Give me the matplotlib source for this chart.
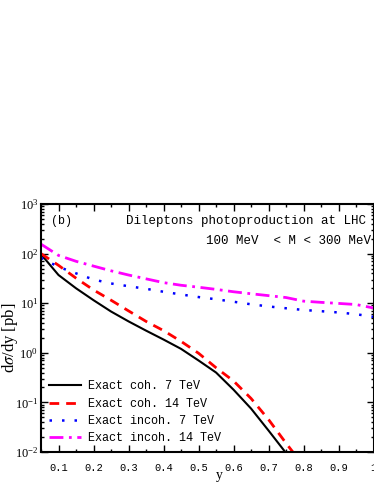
import matplotlib
matplotlib.use("Agg")
import matplotlib.pyplot as plt
from matplotlib.ticker import LogLocator, MultipleLocator, NullFormatter, FixedLocator

# data
y_coh7 = [0.05, 0.1, 0.15, 0.2, 0.25, 0.3, 0.35, 0.4, 0.45, 0.5, 0.55, 0.6, 0.65, 0.7, 0.75]
v_coh7 = [97, 37, 20, 11.5, 6.8, 4.3, 2.8, 1.85, 1.2, 0.7, 0.4, 0.18, 0.075, 0.027, 0.0095]

y_coh14 = [0.05, 0.1, 0.15, 0.2, 0.25, 0.3, 0.35, 0.4, 0.45, 0.5, 0.55, 0.6, 0.65, 0.7, 0.75, 0.78]
v_coh14 = [100, 58, 32, 18.5, 11.5, 7.0, 4.3, 2.8, 1.7, 0.98, 0.5, 0.27, 0.12, 0.045, 0.015, 0.008]

y_inc = [0.05, 0.1, 0.15, 0.2, 0.25, 0.3, 0.35, 0.4, 0.45, 0.5, 0.55, 0.6, 0.65, 0.7,
         0.75, 0.8, 0.85, 0.9, 0.95, 1.0]
v_inc7 = [82, 54, 40, 30, 25, 22, 19.5, 17, 15, 13.3, 12, 10.7, 9.5, 8.6,
          7.9, 7.3, 6.9, 6.5, 6.0, 5.3]
v_inc14 = [155, 92, 70, 56, 45, 37, 31, 26, 23, 21, 19, 17, 15.5, 14.2,
           13, 11, 10.4, 9.9, 9.4, 8.0]

labels = ["Exact coh. 7 TeV", "Exact coh. 14 TeV", "Exact incoh. 7 TeV", "Exact incoh. 14 TeV"]
xticks = [0.1, 0.2, 0.3, 0.4, 0.5, 0.6, 0.7, 0.8, 0.9, 1.0]
xticklabels = ["0.1", "0.2", "0.3", "0.4", "0.5", "0.6", "0.7", "0.8", "0.9", "1"]

plt.rcParams['mathtext.fontset'] = 'stix'
plt.rcParams['font.family'] = ['Liberation Serif', 'DejaVu Serif']

fig = plt.figure(figsize=(3.74, 4.84), dpi=100)
ax = fig.add_axes([41/374, 32/484, 1 - 41/374 - 0.001, (452-204)/484])

ax.plot(y_coh7, v_coh7, color='black', lw=1.5, label=labels[0])
ax.plot(y_coh14, v_coh14, color='red', lw=2.0, linestyle=(0, (3.5, 2.5)), label=labels[1])
ax.plot(y_inc, v_inc7, color='blue', lw=1.8, linestyle=(0, (1, 4)), label=labels[2])
ax.plot(y_inc, v_inc14, color='magenta', lw=2.0, linestyle=(0, (5, 2, 1, 2)), label=labels[3])

ax.set_yscale('log')
ax.set_xlim(0.05, 1.0)
ax.set_ylim(1e-2, 1e3)

ax.xaxis.set_major_locator(FixedLocator(xticks))
ax.set_xticklabels(xticklabels, family='Liberation Mono', fontsize=7.5)
ax.xaxis.set_minor_locator(MultipleLocator(0.05))
ax.yaxis.set_major_locator(LogLocator(base=10, numticks=10))
ax.yaxis.set_minor_locator(LogLocator(base=10, subs=range(2, 10), numticks=20))
ax.yaxis.set_minor_formatter(NullFormatter())
for lab in ax.get_yticklabels():
    lab.set_fontsize(9)

ax.tick_params(which='both', direction='in', top=True, right=True, width=1.0)
ax.tick_params(which='major', length=5)
ax.tick_params(which='minor', length=2.5)
ax.tick_params(axis='x', pad=8)
ax.tick_params(axis='y', pad=2)
for s in ax.spines.values():
    s.set_linewidth(1.5)

ax.set_ylabel(r"d$\sigma$/dy [pb]", fontsize=12, family='Liberation Serif')
ax.yaxis.set_label_coords(-0.092, 0.46)
ax.yaxis.label.set_va('center')
ax.set_xlabel("y", fontsize=10, family='Liberation Serif')
ax.xaxis.set_label_coords(0.537, -0.068)

ax.text(0.03, 0.955, "(b)", transform=ax.transAxes, family='Liberation Mono', fontsize=8.5,
        ha='left', va='top')
ax.text(0.976, 0.955, "Dileptons photoproduction at LHC", transform=ax.transAxes,
        family='Liberation Mono', fontsize=9, ha='right', va='top')
ax.text(0.992, 0.875, "100 MeV  < M < 300 MeV", transform=ax.transAxes,
        family='Liberation Mono', fontsize=9, ha='right', va='top')

leg = ax.legend(loc='lower left', bbox_to_anchor=(0.0, 0.0), frameon=False,
                prop={'family': 'Liberation Mono', 'size': 8.5},
                handlelength=2.7, handletextpad=0.6, labelspacing=0.45, borderaxespad=0.25)

fig.savefig("out.png", dpi=100)
